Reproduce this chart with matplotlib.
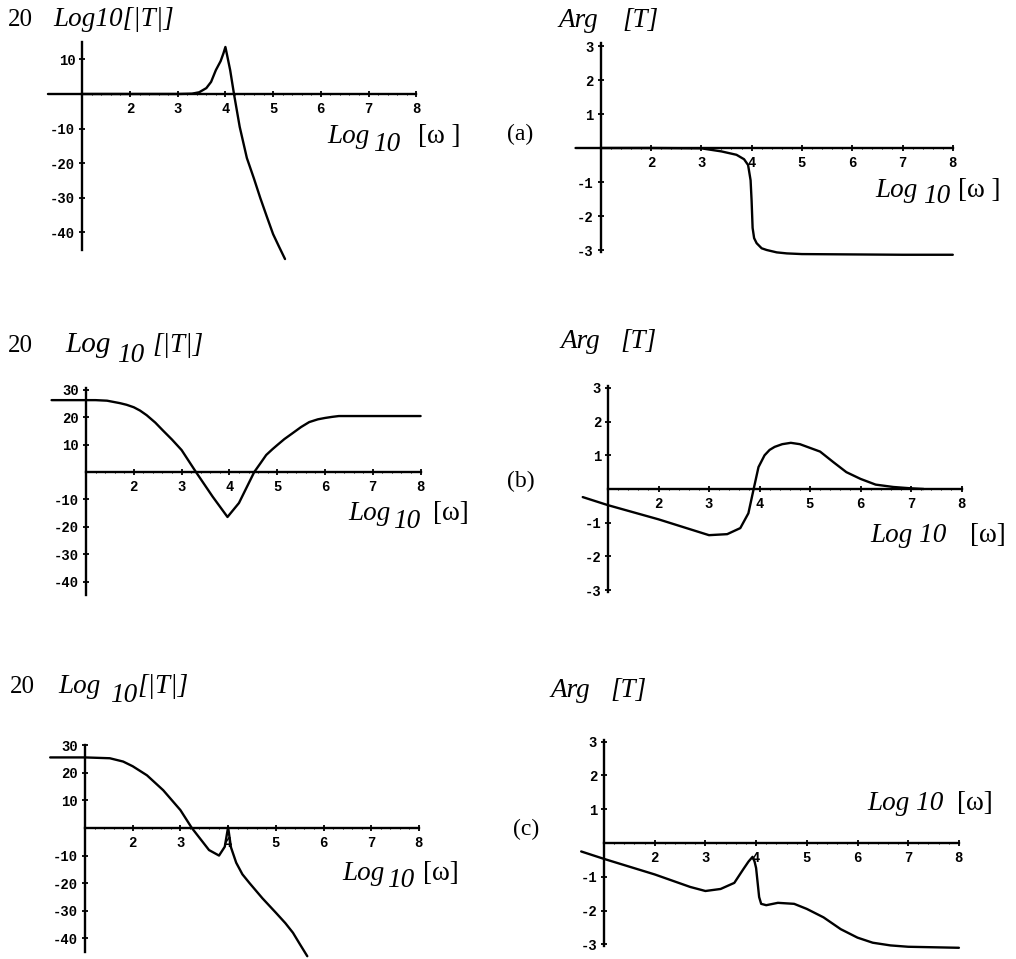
import matplotlib
matplotlib.use("Agg")
import matplotlib.pyplot as plt
import numpy as np

W, H = 1016, 959

# panel (a): magnitude and phase
a_mag_x = [0.28, 1.0, 2.0, 3.0, 3.3, 3.45, 3.6, 3.7, 3.8, 3.9, 3.96, 4.0, 4.1, 4.18,
           4.3, 4.45, 4.6, 4.73, 4.87, 5.0, 5.12, 5.25]
a_mag_y = [0, 0, 0, 0, 0.1, 0.5, 1.7, 3.5, 6.9, 9.5, 11.8, 13.6, 6.9, 0,
           -9.5, -18.5, -24.5, -30, -35.5, -40.5, -44, -47.7]
a_arg_x = [0.5, 1, 2, 3, 3.4, 3.7, 3.85, 3.93, 3.98, 4.0, 4.02, 4.05, 4.1, 4.2,
           4.3, 4.5, 4.7, 5, 6, 7, 8]
a_arg_y = [0, 0, 0, -0.01, -0.1, -0.2, -0.33, -0.5, -0.95, -1.55, -2.35, -2.65, -2.8, -2.95,
           -3.0, -3.07, -3.1, -3.12, -3.13, -3.14, -3.14]

# panel (b)
b_mag_x = [0.28, 1, 1.2, 1.44, 1.71, 1.85, 2, 2.13, 2.27, 2.45, 2.6, 2.8, 3, 3.3,
           3.65, 3.96, 4.2, 4.52, 4.65, 4.77, 4.9, 5, 5.15, 5.31, 5.5, 5.67, 5.85,
           6, 6.15, 6.29, 7, 8]
b_mag_y = [26.2, 26.2, 26.2, 26, 25.1, 24.5, 23.6, 22.4, 20.7, 18, 15.3, 11.8, 8, 0,
           -9, -16.4, -11.3, 0, 3.2, 6.2, 8.3, 9.8, 12, 14, 16.4, 18.2, 19.2,
           19.7, 20.1, 20.4, 20.4, 20.4]
b_arg_x = [0.5, 1, 2, 3, 3.36, 3.62, 3.78, 3.88, 3.98, 4.1, 4.2, 4.3, 4.45, 4.62,
           4.8, 5.0, 5.2, 5.46, 5.72, 6.0, 6.3, 6.65, 7.0, 7.25]
b_arg_y = [-0.24, -0.48, -0.9, -1.37, -1.34, -1.16, -0.72, -0.03, 0.65, 1.0, 1.16, 1.25, 1.33, 1.37,
           1.33, 1.22, 1.11, 0.8, 0.5, 0.3, 0.13, 0.06, 0.02, 0.0]

# panel (c)
c_mag_x = [0.27, 1, 1.52, 1.8, 2, 2.3, 2.64, 3.0, 3.24, 3.6, 3.81, 3.93, 4.0, 4.06,
           4.17, 4.3, 4.45, 4.72, 5.0, 5.2, 5.36, 5.5, 5.66]
c_mag_y = [25.6, 25.6, 25.3, 24.1, 22.4, 19.1, 13.7, 6.5, 0, -8, -10, -6.8, 0.3, -7,
           -12.6, -16.8, -20, -25.5, -30.7, -34.5, -38, -42, -46.5]
c_arg_x = [0.55, 1, 2, 2.7, 3.0, 3.3, 3.57, 3.75, 3.85, 3.93, 3.97, 4.0, 4.06, 4.1,
           4.2, 4.43, 4.75, 5.0, 5.33, 5.67, 6.0, 6.3, 6.65, 7.0, 8.0]
c_arg_y = [-0.25, -0.47, -0.93, -1.3, -1.42, -1.36, -1.18, -0.77, -0.55, -0.41, -0.55, -0.74, -1.6, -1.8,
           -1.84, -1.77, -1.8, -1.95, -2.2, -2.55, -2.8, -2.95, -3.03, -3.07, -3.1]

x_ticks = [2, 3, 4, 5, 6, 7, 8]
mag_ticks_a = [10, -10, -20, -30, -40]
mag_ticks_bc = [30, 20, 10, -10, -20, -30, -40]
arg_ticks = [3, 2, 1, -1, -2, -3]

SERIF = ["Liberation Serif", "DejaVu Serif"]
TICKFONT = dict(family="Liberation Mono", weight="bold", size=10)
LBL = 19.5

fig = plt.figure(figsize=(W / 100, H / 100), dpi=100)


def make_axes(x0, sx, y0, sy, xlim, ylim):
    # x0/y0: pixel of the origin (x=1, y=0); sx/sy: pixels per data unit
    left = x0 + (xlim[0] - 1) * sx
    right = x0 + (xlim[1] - 1) * sx
    top = y0 - ylim[1] * sy
    bottom = y0 - ylim[0] * sy
    ax = fig.add_axes([left / W, 1 - bottom / H, (right - left) / W, (bottom - top) / H])
    ax.set_xlim(*xlim)
    ax.set_ylim(*ylim)
    ax.patch.set_alpha(0)
    return ax


def style_axes(ax, yticks, ybounds):
    for side in ("top", "right"):
        ax.spines[side].set_visible(False)
    ax.spines["left"].set_position(("data", 1))
    ax.spines["bottom"].set_position(("data", 0))
    ax.spines["left"].set_bounds(*ybounds)
    ax.spines["bottom"].set_bounds(1, 8)
    for s in ("left", "bottom"):
        ax.spines[s].set_linewidth(1.7)
    ax.set_xticks(x_ticks)
    ax.set_xticks(np.arange(1.2, 8.0, 0.2), minor=True)
    ax.set_yticks(yticks)
    ax.set_xticklabels([str(t) for t in x_ticks], fontdict=TICKFONT)
    ax.set_yticklabels([str(t) for t in yticks], fontdict=TICKFONT)
    ax.tick_params(which="major", direction="inout", length=5, width=1.3)
    ax.tick_params(axis="x", which="major", pad=3.5)
    ax.tick_params(axis="y", which="major", pad=2.5)
    ax.tick_params(which="minor", direction="inout", length=2, width=0.7)
    ax.tick_params(axis="y", which="minor", left=False)


def txt(px, py, s, size=LBL, style="italic"):
    fig.text(px / W, 1 - py / H, s, fontsize=size, family=SERIF, style=style,
             ha="left", va="baseline")


panels = [
    (82.3, 47.7, 94, 3.46, (-48.5, 16), a_mag_x, a_mag_y, mag_ticks_a, (-45, 15)),
    (600.7, 50.3, 148, 34.0, (-3.3, 3.3), a_arg_x, a_arg_y, arg_ticks, (-3.05, 3.1)),
    (86, 47.8, 472, 2.743, (-46, 31.5), b_mag_x, b_mag_y, mag_ticks_bc, (-45, 30.5)),
    (608, 50.5, 489, 33.7, (-3.3, 3.3), b_arg_x, b_arg_y, arg_ticks, (-3.05, 3.05)),
    (85, 47.7, 828, 2.757, (-47.5, 31), c_mag_x, c_mag_y, mag_ticks_bc, (-45, 30)),
    (604, 50.7, 843, 33.8, (-3.3, 3.3), c_arg_x, c_arg_y, arg_ticks, (-3.05, 3.05)),
]

for x0, sx, y0, sy, ylim, xs, ys, yt, yb in panels:
    ax = make_axes(x0, sx, y0, sy, (0.2, 8.3), ylim)
    style_axes(ax, yt, yb)
    ax.plot(xs, ys, color="black", lw=1.7, clip_on=False,
            solid_joinstyle="round", solid_capstyle="round")

# row (a) labels
txt(8, 26, "20", size=18, style="normal")
txt(53, 26, "Log10[|T|]")
txt(327, 143, "Log")
txt(373, 151, "10")
txt(418, 143, "[ω ]", style="normal")
txt(507, 140, "(a)", size=17, style="normal")
txt(558, 27, "Arg")
txt(622, 27, "[T]")
txt(875, 197, "Log")
txt(923, 203, "10")
txt(958, 197, "[ω ]", style="normal")

# row (b) labels
txt(8, 352, "20", size=18, style="normal")
txt(65, 352, "Log", size=21)
txt(117, 362, "10")
txt(152, 352, "[|T|]")
txt(348, 520, "Log")
txt(393, 528, "10")
txt(433, 520, "[ω]", style="normal")
txt(507, 487, "(b)", size=17, style="normal")
txt(560, 348, "Arg")
txt(620, 348, "[T]")
txt(870, 542, "Log 10")
txt(970, 542, "[ω]", style="normal")

# row (c) labels
txt(10, 693, "20", size=18, style="normal")
txt(58, 693, "Log")
txt(110, 702, "10")
txt(137, 693, "[|T|]")
txt(342, 880, "Log")
txt(387, 887, "10")
txt(423, 880, "[ω]", style="normal")
txt(513, 835, "(c)", size=17, style="normal")
txt(550, 697, "Arg")
txt(610, 697, "[T]")
txt(867, 810, "Log 10")
txt(957, 810, "[ω]", style="normal")

fig.savefig("out.png", dpi=100)
